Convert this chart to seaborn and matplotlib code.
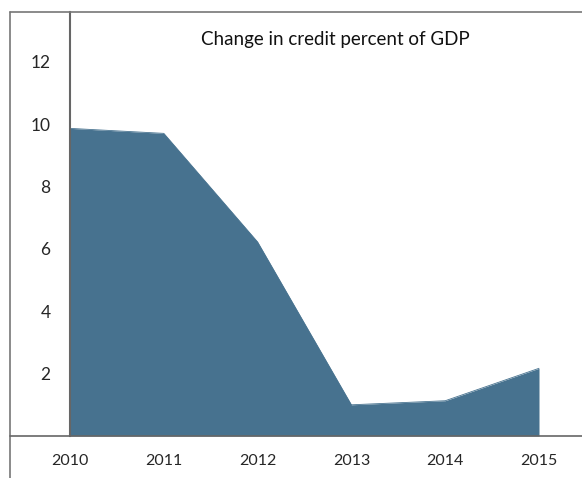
import matplotlib
matplotlib.use("Agg")
import matplotlib.pyplot as plt
import seaborn as sns
import pandas as pd
from matplotlib.lines import Line2D

years = [2010, 2011, 2012, 2013, 2014, 2015]
credit_change = [9.86, 9.70, 6.22, 1.00, 1.13, 2.17]
y_ticks = [2, 4, 6, 8, 10, 12]
title = "Change in credit percent of GDP"

sns.set_theme(style="white")
plt.rcParams['font.family'] = ['Lato', 'DejaVu Sans']

df = pd.DataFrame({"year": years, "value": credit_change})
color = "#47728f"

W, H = 582, 478
fig = plt.figure(figsize=(W / 100, H / 100), dpi=100)
ax = fig.add_axes([70 / W, (H - 436) / H, (W - 70) / W, (436 - 12) / H])

sns.lineplot(data=df, x="year", y="value", ax=ax, color=color, linewidth=0.6)
ax.fill_between(df["year"], df["value"], 0, color=color, linewidth=0)

ax.set_xlim(2010, 2015 + 43 / 93.8)
ax.set_ylim(0, 424 / 31.2)
ax.set_yticks(y_ticks)
ax.set_yticklabels([str(v) for v in y_ticks], fontsize=12.5)
ax.set_xticks(years)
ax.set_xticklabels([str(y) for y in years], fontsize=11.5)
ax.tick_params(axis="y", length=0, pad=14)
ax.tick_params(axis="x", length=0, pad=13)
ax.set_xlabel("")
ax.set_ylabel("")
for s in ["top", "right", "bottom"]:
    ax.spines[s].set_visible(False)
ax.spines["left"].set_color("#666666")
ax.spines["left"].set_linewidth(1.5)

ax.text(0.518, 0.935, title, transform=ax.transAxes, ha="center", va="center",
        fontsize=13.5, color="#111111")

gray = "#777777"
fig.add_artist(Line2D([10 / W, 10 / W], [0, (H - 12) / H], transform=fig.transFigure, color=gray, lw=1.2))
fig.add_artist(Line2D([10 / W, 1], [(H - 12) / H, (H - 12) / H], transform=fig.transFigure, color=gray, lw=1.2))
fig.add_artist(Line2D([10 / W, 1], [(H - 436) / H, (H - 436) / H], transform=fig.transFigure, color="#666666", lw=1.2))

fig.savefig("out.png", dpi=100)
